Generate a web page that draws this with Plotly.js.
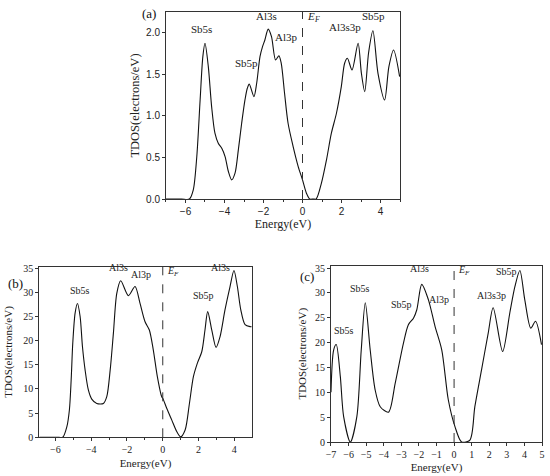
<!DOCTYPE html>
<html>
<head>
<meta charset="utf-8">
<script src="https://cdn.plot.ly/plotly-3.0.1.min.js"></script>
<style>html,body{margin:0;padding:0;background:#fff;}#chart{width:550px;height:476px;}</style>
</head>
<body>
<div id="chart"></div>
<script>
// ---- Panel (a) ----
const energyA = [-7, -6.2, -5.8, -5.6, -5.42, -5.25, -5.11, -5.0, -4.83, -4.66, -4.49, -4.32, -4.14, -3.97, -3.8, -3.63, -3.46, -3.29, -3.12, -2.95, -2.83, -2.73, -2.49, -2.35, -2.18, -2.05, -1.93, -1.76, -1.59, -1.38, -1.21, -1.09, -0.92, -0.74, -0.48, -0.22, 0, 0.2, 0.37, 0.55, 0.7, 0.97, 1.23, 1.48, 1.74, 1.99, 2.16, 2.3, 2.54, 2.85, 3.02, 3.19, 3.39, 3.61, 3.87, 4.21, 4.43, 4.67, 4.98];
const tdosA   = [0, 0, 0, 0.11, 0.51, 1.19, 1.71, 1.87, 1.59, 1.11, 0.79, 0.67, 0.61, 0.51, 0.33, 0.23, 0.31, 0.59, 0.91, 1.19, 1.33, 1.38, 1.23, 1.39, 1.71, 1.83, 1.91, 2.04, 1.95, 1.67, 1.72, 1.63, 1.27, 0.91, 0.63, 0.39, 0.23, 0.07, 0, 0, 0, 0.19, 0.47, 0.79, 1.03, 1.35, 1.63, 1.69, 1.55, 1.87, 1.51, 1.29, 1.76, 2.02, 1.51, 1.19, 1.59, 1.79, 1.47];
const labelsA  = ["Sb5s", "Sb5p", "Al3s", "Al3p", "Al3s3p", "Sb5p"];
const labelAx  = [-5.17, -2.87, -1.84, -0.8, 2.16, 3.66];
const labelAy  = [1.95, 1.54, 2.10, 1.85, 1.97, 2.10];

// ---- Panel (b) ----
const energyB = [-6.9, -5.8, -5.59, -5.36, -5.22, -5.12, -5.03, -4.9, -4.77, -4.62, -4.49, -4.34, -4.16, -3.97, -3.69, -3.32, -3.13, -2.94, -2.76, -2.57, -2.35, -1.92, -1.55, -1.27, -0.99, -0.75, -0.53, -0.3, -0.06, 0, 0.22, 0.5, 0.78, 1.0, 1.25, 1.49, 1.71, 1.93, 2.18, 2.36, 2.51, 2.74, 2.98, 3.2, 3.48, 3.76, 3.98, 4.17, 4.36, 4.6, 4.88, 4.97];
const tdosB   = [0, 0, 0, 2.2, 5.65, 11.9, 19.5, 25.7, 27.7, 25, 18.8, 13.9, 9.8, 7.9, 7.0, 7.0, 8.4, 13.9, 21.5, 29.8, 32.4, 29.3, 31.2, 27.7, 23.9, 22.2, 18.1, 12.5, 8.4, 8.1, 6.0, 3.6, 1.2, 0.1, 1.5, 7.0, 12.5, 15.3, 17.7, 22.2, 26, 22.2, 18.6, 20.8, 26.4, 31.2, 34.5, 31.2, 26.4, 23.3, 22.9, 22.9];
const labelsB  = ["Sb5s", "Al3s", "Al3p", "Sb5p", "Al3s"];
const labelBx  = [-4.62, -2.48, -1.23, 2.27, 3.2];
const labelBy  = [28.8, 33.6, 32.2, 27.7, 33.6];

// ---- Panel (c) ----
const energyC = [-7, -6.85, -6.7, -6.47, -6.28, -5.9, -5.53, -5.28, -5.05, -4.77, -4.49, -4.2, -3.73, -3.35, -2.88, -2.6, -2.31, -2.12, -1.84, -1.46, -1.08, -0.7, -0.33, 0.05, 0.43, 0.9, 1.18, 1.56, 1.94, 2.22, 2.76, 3.17, 3.46, 3.74, 4.02, 4.36, 4.63, 4.97];
const tdosC   = [10, 18.5, 19.6, 13.2, 5.1, 0, 5.1, 18.5, 28, 18.5, 10.5, 7.1, 6.0, 11.8, 19.9, 23.6, 24.9, 26.6, 31.7, 28.6, 23.2, 18.5, 8.5, 3.1, 0, 0.4, 7.1, 14.5, 21.9, 27, 18.2, 26, 31.3, 34.5, 28.6, 22.9, 24.3, 19.6];
const labelsC  = ["Sb5s", "Sb5s", "Sb5p", "Al3s", "Al3p", "Al3s3p", "Sb5p"];
const labelCx  = [-6.28, -5.34, -3.01, -1.99, -0.85, 2.13, 2.98];
const labelCy  = [20.9, 29.4, 26.1, 33.3, 27.2, 28, 32.8];

// Fermi-level label position (y value per panel)
const fermiY = [2.10, 32.9, 33.2];

const panelTags = ["(a)", "(b)", "(c)"];
const xTitle = "Energy(eV)";
const yTitle = "TDOS(electrons/eV)";

const serif = "Liberation Serif, Times New Roman, serif";
const sans = "Liberation Sans, Arial, sans-serif";
const lineStyle = {color: "#111", width: 1.1, shape: "spline", smoothing: 0.8};

const traces = [
  {x: energyA, y: tdosA, xaxis: "x", yaxis: "y", mode: "lines", line: lineStyle, hoverinfo: "x+y"},
  {x: energyB, y: tdosB, xaxis: "x2", yaxis: "y2", mode: "lines", line: lineStyle, hoverinfo: "x+y"},
  {x: energyC, y: tdosC, xaxis: "x3", yaxis: "y3", mode: "lines", line: lineStyle, hoverinfo: "x+y"}
];

function axisBase(extra) {
  return Object.assign({
    showline: true, mirror: true, linecolor: "#333", linewidth: 1,
    ticks: "outside", ticklen: 3, tickcolor: "#333",
    showgrid: false, zeroline: false,
    tickfont: {family: serif, size: 10, color: "#222"}
  }, extra);
}

const annotations = [];
function addLabels(names, xs, ys, xr, yr, size) {
  names.forEach((t, i) => annotations.push({
    x: xs[i], y: ys[i], xref: xr, yref: yr, text: t, showarrow: false,
    font: {family: serif, size: size, color: "#222"}, xanchor: "center", yanchor: "bottom"
  }));
}
addLabels(labelsA, labelAx, labelAy, "x", "y", 11);
addLabels(labelsB, labelBx, labelBy, "x2", "y2", 10);
addLabels(labelsC, labelCx, labelCy, "x3", "y3", 10);

// E_F labels: italic E with a small subscript F
[["x","y",11],["x2","y2",10],["x3","y3",10]].forEach((r, i) => {
  annotations.push({
    x: 0.12, y: fermiY[i], xref: r[0], yref: r[1], text: "E", showarrow: false,
    font: {family: serif, size: r[2], color: "#222", style: "italic"}, xanchor: "left", yanchor: "bottom"
  });
  annotations.push({
    x: 0.12, y: fermiY[i], xref: r[0], yref: r[1], text: "F", showarrow: false,
    xshift: r[2] * 0.62, yshift: -2,
    font: {family: serif, size: r[2] * 0.7, color: "#222", style: "italic"}, xanchor: "left", yanchor: "bottom"
  });
});

// panel tags
const tagPos = [[0.2715, 0.972], [0.0273, 0.405], [0.5576, 0.419]];
panelTags.forEach((t, i) => annotations.push({
  x: tagPos[i][0], y: tagPos[i][1], xref: "paper", yref: "paper", text: t, showarrow: false,
  font: {family: serif, size: 13, color: "#111"}, xanchor: "center", yanchor: "middle"
}));

const shapes = [["x","y"],["x2","y2"],["x3","y3"]].map(r => ({
  type: "line", xref: r[0], yref: r[1] + " domain", x0: 0, x1: 0, y0: 0, y1: 1,
  line: {color: "#333", width: 1, dash: "dash"}
}));

const layout = {
  width: 550, height: 476,
  margin: {l: 0, r: 0, t: 0, b: 0},
  paper_bgcolor: "#fff", plot_bgcolor: "#fff",
  showlegend: false,
  xaxis: axisBase({domain: [0.3018, 0.7273], range: [-7, 5], dtick: 2, tick0: 0, anchor: "y",
    minor: {dtick: 1, ticklen: 2, ticks: "outside", tickcolor: "#333"},
    tickfont: {family: sans, size: 10, color: "#222"},
    title: {text: xTitle, font: {family: serif, size: 12, color: "#222"}, standoff: 3}}),
  yaxis: axisBase({domain: [0.5819, 0.9748], range: [0, 2.246], dtick: 0.5, anchor: "x", tickformat: ".1f",
    tickfont: {family: sans, size: 10, color: "#222"},
    title: {text: yTitle, font: {family: serif, size: 12.5, color: "#222"}, standoff: 3}}),
  xaxis2: axisBase({domain: [0.0715, 0.4576], range: [-6.9, 4.97], dtick: 2, tick0: 0, anchor: "y2",
    minor: {dtick: 1, ticklen: 2, ticks: "outside", tickcolor: "#333"},
    title: {text: xTitle, font: {family: serif, size: 11, color: "#222"}, standoff: 4}}),
  yaxis2: axisBase({domain: [0.0813, 0.4397], range: [0, 35.3], dtick: 5, anchor: "x2",
    title: {text: yTitle, font: {family: serif, size: 11, color: "#222"}, standoff: 8}}),
  xaxis3: axisBase({domain: [0.6018, 0.9855], range: [-7, 5], dtick: 1, tick0: 0, anchor: "y3",
    title: {text: xTitle, font: {family: serif, size: 11, color: "#222"}, standoff: 4}}),
  yaxis3: axisBase({domain: [0.0714, 0.4422], range: [0, 35.5], dtick: 5, anchor: "x3",
    title: {text: yTitle, font: {family: serif, size: 11, color: "#222"}, standoff: 6}}),
  annotations: annotations,
  shapes: shapes
};

Plotly.newPlot("chart", traces, layout, {displayModeBar: false, staticPlot: true});
</script>
</body>
</html>
